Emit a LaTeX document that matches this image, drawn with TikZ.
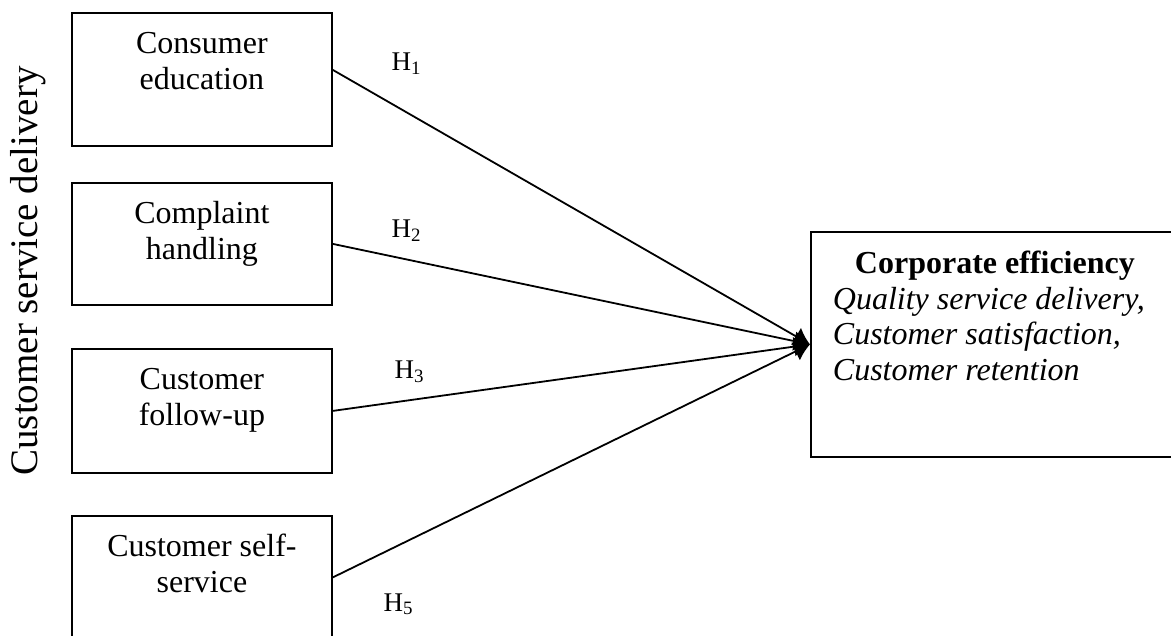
\documentclass[tikz,border=0pt]{standalone}
\usepackage{fontspec}
\setmainfont{Liberation Serif}
\usetikzlibrary{arrows.meta}
\tikzset{
  factor/.style={draw, line width=1.8pt, inner sep=0pt, anchor=north west},
  link/.style={-{Latex[length=16pt,width=20pt]}, line width=1.8pt},
  hyp/.style={anchor=base west, font=\fontsize{27}{30}\selectfont}
}
\newcommand{\hname}[1]{H\textsubscript{#1}}

\begin{document}
\begin{tikzpicture}[x=1pt,y=-1pt,font=\fontsize{32}{35.5}\selectfont]
  \useasboundingbox (0,0) rectangle (1171,636);

  % dimensions of customer service delivery
  \node[factor] (edu) at (71,12) {\parbox[c][133pt][t]{260pt}{\centering\rule{0pt}{41pt}Consumer\\education}};
  \node[factor] (cmp) at (71,182) {\parbox[c][122pt][t]{260pt}{\centering\rule{0pt}{41pt}Complaint\\handling}};
  \node[factor] (fol) at (71,348) {\parbox[c][124pt][t]{260pt}{\centering\rule{0pt}{41pt}Customer\\follow-up}};
  \node[factor] (slf) at (71,515) {\parbox[c][133pt][t]{260pt}{\centering\rule{0pt}{41pt}Customer self-\\service}};

  \node[rotate=90, font=\fontsize{39}{43}\selectfont] (cdel) at (28,271) {Customer service delivery};

  % outcome
  \node[factor] (eff) at (810,231) {\parbox[c][225pt][t]{368pt}{\centering\rule{0pt}{42pt}\textbf{Corporate efficiency}\par
      \raggedright\leftskip=22pt\itshape Quality service delivery,\\Customer satisfaction,\\Customer retention}};

  \draw[link] ([yshift=9.5pt]edu.east) -- (eff.west);
  \draw[link] (cmp.east) -- (eff.west);
  \draw[link] (fol.east) -- (eff.west);
  \draw[link] ([yshift=5pt]slf.east) -- (eff.west);

  \node[hyp] (h1) at (388,71) {\hname{1}};
  \node[hyp] (h2) at (388,238) {\hname{2}};
  \node[hyp] (h3) at (391,379) {\hname{3}};
  \node[hyp] (h5) at (380,611) {\hname{5}};
\end{tikzpicture}
\end{document}
